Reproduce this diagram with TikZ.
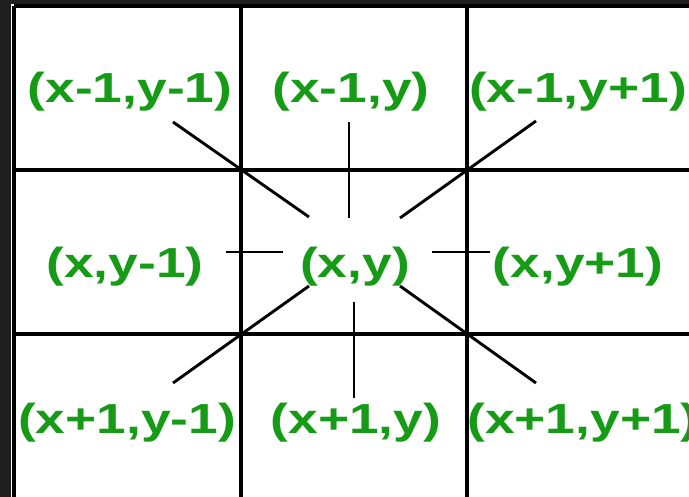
\documentclass[tikz,border=0pt]{standalone}
\usepackage{fontspec}
\usepackage{graphicx}
\newfontfamily\lblfont{Liberation Sans}
\definecolor{bgdark}{RGB}{30,30,30}
\definecolor{lblgreen}{RGB}{22,155,22}
\tikzset{
  gridline/.style={line width=3.4pt, black},
  spoke/.style={line width=2.9pt, black},
  lbl/.style={anchor=base, inner sep=0pt, text=lblgreen,
    font=\lblfont\bfseries\fontsize{42}{48}\selectfont}
}
\newcommand{\lbltext}[1]{\scalebox{1.27}[1]{#1}}
\begin{document}
\begin{tikzpicture}[x=1pt,y=-1pt]
\useasboundingbox (0,0) rectangle (689,497);
\fill[bgdark] (0,0) rectangle (689,497);
\fill[white] (11,4) rectangle (689,497);
% grid
\draw[gridline] (14,6) -- (14,497);
\draw[gridline] (241,6) -- (241,497);
\draw[gridline] (467,6) -- (467,497);
\draw[gridline] (14,6) -- (689,6);
\draw[gridline] (14,170) -- (689,170);
\draw[gridline] (14,334) -- (689,334);
% labels
\node[lbl] (nw) at (130,103) {\lbltext{(x-1,y-1)}};
\node[lbl] (n)  at (351,103) {\lbltext{(x-1,y)}};
\node[lbl] (ne) at (578,103) {\lbltext{(x-1,y+1)}};
\node[lbl] (w)  at (125,278) {\lbltext{(x,y-1)}};
\node[lbl] (c)  at (355,278) {\lbltext{(x,y)}};
\node[lbl] (e)  at (578,278) {\lbltext{(x,y+1)}};
\node[lbl] (sw) at (127,434) {\lbltext{(x+1,y-1)}};
\node[lbl] (s)  at (356,434) {\lbltext{(x+1,y)}};
\node[lbl] (se) at (583,434) {\lbltext{(x+1,y+1)}};
% spoke end points
\coordinate (nwA) at (173,122); \coordinate (nwB) at (309,217);
\coordinate (nA)  at (349,122); \coordinate (nB)  at (349,218);
\coordinate (neA) at (536,121); \coordinate (neB) at (400,218);
\coordinate (wA)  at (226,252); \coordinate (wB)  at (283,252);
\coordinate (eA)  at (432,252); \coordinate (eB)  at (490,252);
\coordinate (swA) at (309,286); \coordinate (swB) at (173,383);
\coordinate (sA)  at (354,302); \coordinate (sB)  at (354,398);
\coordinate (seA) at (400,286); \coordinate (seB) at (536,383);
\draw[spoke] (nwA) -- (nwB);
\draw[spoke] (nA) -- (nB);
\draw[spoke] (neA) -- (neB);
\draw[spoke] (wA) -- (wB);
\draw[spoke] (eA) -- (eB);
\draw[spoke] (swA) -- (swB);
\draw[spoke] (sA) -- (sB);
\draw[spoke] (seA) -- (seB);
\end{tikzpicture}
\end{document}
